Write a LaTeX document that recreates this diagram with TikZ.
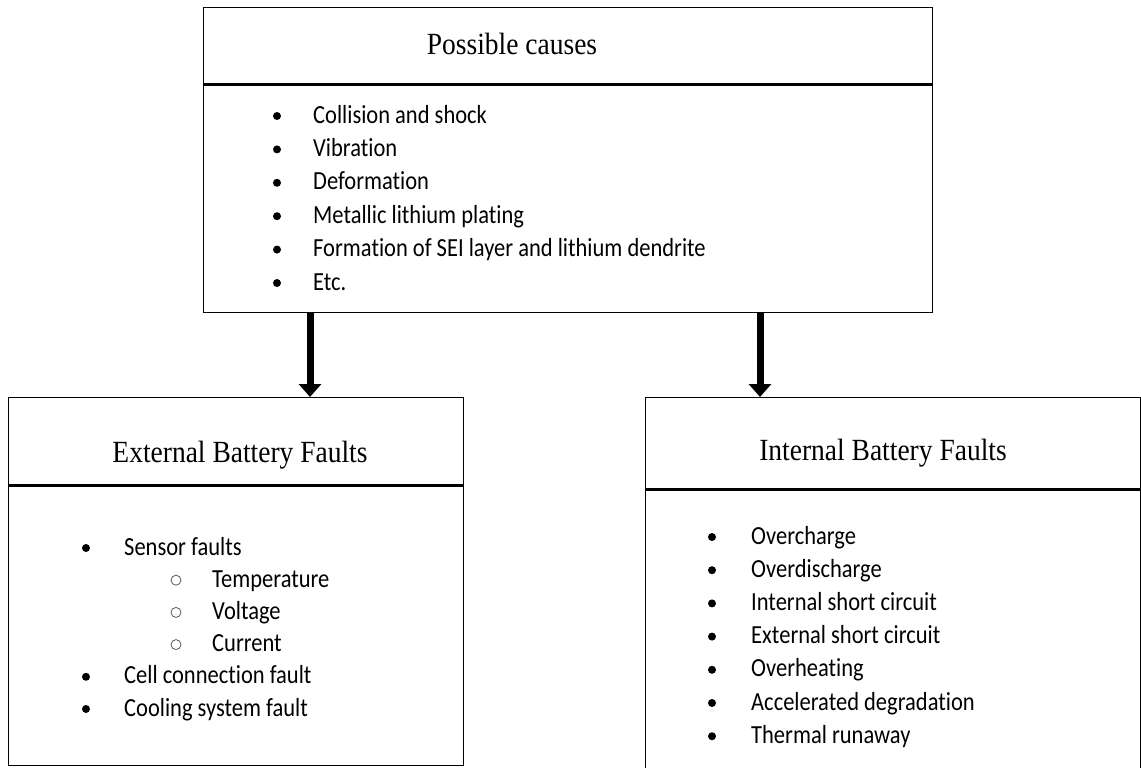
\documentclass[tikz,border=0pt]{standalone}
\usepackage{fontspec}
\usepackage{graphicx}
\setmainfont{Liberation Serif}
\newfontfamily\bodyfont[Ligatures=NoCommon]{Carlito}
\newcommand{\tallitem}[1]{\scalebox{1}[1.16]{#1}}
\newcommand{\talltitle}[1]{\scalebox{1}[1.12]{#1}}
\usetikzlibrary{positioning,arrows.meta}

\begin{document}
\begin{tikzpicture}[x=1pt,y=-1pt,
                box/.style={draw,line width=1.3pt,inner sep=0pt,anchor=north west},
                split/.style={line width=2.6pt},
                head/.style={font=\fontsize{27.5}{30}\selectfont,anchor=base,inner sep=0pt},
                item/.style={font=\bodyfont\fontsize{22.5}{26}\selectfont,anchor=base west,inner sep=0pt},
                dot/.style={circle,fill=black,minimum size=8pt,inner sep=0pt},
                ring/.style={circle,draw=black!65,line width=0.8pt,minimum size=10pt,inner sep=0pt},
                link/.style={line width=7pt,-{Triangle[width=22pt,length=13pt]}}]
                \useasboundingbox (0,0) rectangle (1141,768);
                \clip (0,0) rectangle (1141,768);
                % boxes
                \node[box,minimum width=729pt,minimum height=76pt] (causeshead) at (203,7) {};
                \node[box,minimum width=729pt,minimum height=229pt] (causesbody) at (203,83) {};
                \node[box,minimum width=455pt,minimum height=87pt] (exthead) at (8,397) {};
                \node[box,minimum width=455pt,minimum height=281pt] (extbody) at (8,484) {};
                \node[box,minimum width=495pt,minimum height=91pt] (inthead) at (645,397) {};
                \node[box,minimum width=495pt,minimum height=320pt] (intbody) at (645,488) {};
                \draw[split] (causeshead.south west) -- (causeshead.south east);
                \draw[split] (exthead.south west) -- (exthead.south east);
                \draw[split] (inthead.south west) -- (inthead.south east);
                % titles
                \node[head] (causestitle) at (512,55) {\talltitle{Possible causes}};
                \node[head] (exttitle) at (240,462) {\talltitle{External Battery Faults}};
                \node[head] (inttitle) at (883,460) {\talltitle{Internal Battery Faults}};
                % arrows
                \draw[link] ([xshift=107pt]causesbody.south west) -- ([xshift=107pt]causesbody.south west |- exthead.north);
                \draw[link] ([xshift=557pt]causesbody.south west) -- ([xshift=557pt]causesbody.south west |- inthead.north);
                % lists
                \foreach \t [count=\i] in {Collision and shock,Vibration,Deformation,Metallic lithium plating,
                        Formation of SEI layer and lithium dendrite,Etc.}{
                    \node[item] (cause\i) at (313,{123+33.4*(\i-1)}) {\tallitem{\t}};
                    \node[dot] (causedot\i) at (277,{116+33.4*(\i-1)}) {};
                }
                \foreach \bx/\tx/\mk/\t [count=\i] in {86/124/dot/Sensor faults,176/212/ring/Temperature,
                        176/212/ring/Voltage,176/212/ring/Current,86/124/dot/Cell connection fault,
                        86/124/dot/Cooling system fault}{
                    \node[item] (ext\i) at (\tx,{555+32.2*(\i-1)}) {\tallitem{\t}};
                    \node[\mk] (extdot\i) at (\bx,{548+32.2*(\i-1)}) {};
                }
                \foreach \t [count=\i] in {Overcharge,Overdischarge,Internal short circuit,External short circuit,
                        Overheating,Accelerated degradation,Thermal runaway}{
                    \node[item] (int\i) at (751,{544+33.2*(\i-1)}) {\tallitem{\t}};
                    \node[dot] (intdot\i) at (712,{537+33.2*(\i-1)}) {};
                }
\end{tikzpicture}
\end{document}
